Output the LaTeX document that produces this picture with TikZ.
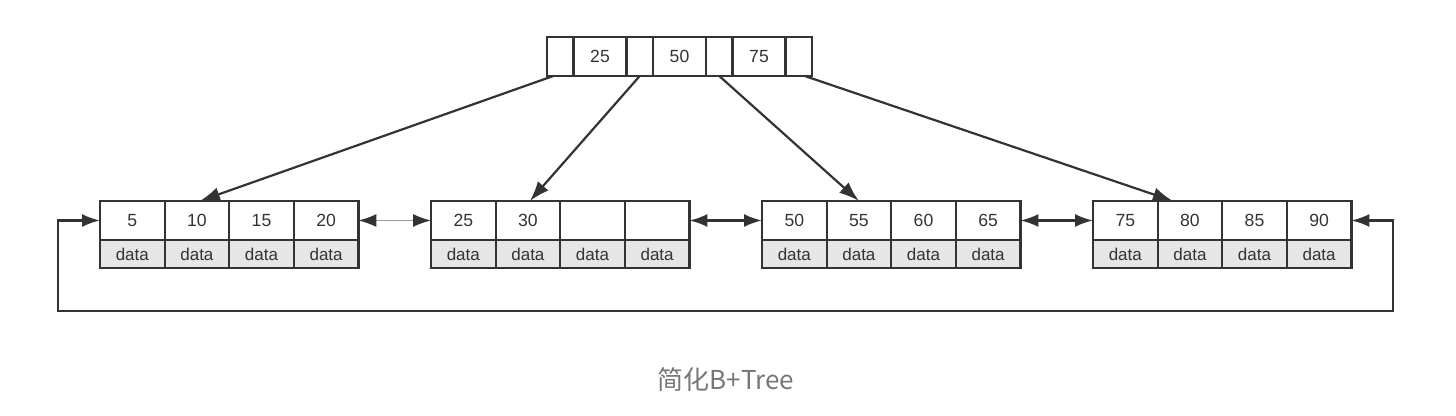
\documentclass[tikz,border=0pt]{standalone}
\usepackage{fontspec}
\setmainfont{Liberation Sans}
\newfontfamily\cjk{Noto Sans CJK SC}
\usetikzlibrary{arrows.meta,positioning}
\definecolor{ln}{HTML}{333333}
\definecolor{datafill}{HTML}{E6E6E6}
\definecolor{thinln}{HTML}{9A9A9A}
\definecolor{capgray}{HTML}{777777}
\begin{document}
\begin{tikzpicture}[x=0.5pt,y=-0.5pt,
  cellbase/.style={draw=ln, line width=1.1pt, outer sep=0pt, inner sep=0pt, text=ln},
  keycell/.style={cellbase, minimum width=32.3pt, minimum height=19.5pt, font=\fontsize{8.8}{10}\selectfont},
  datcell/.style={cellbase, fill=datafill, minimum width=32.3pt, minimum height=14pt, font=\fontsize{8.5}{10}\selectfont},
  tsmall/.style={cellbase, minimum width=13.25pt, minimum height=19.5pt},
  tbig/.style={cellbase, minimum width=26.5pt, minimum height=19.5pt, font=\fontsize{8.8}{10}\selectfont},
  ptr/.style={draw=ln, line width=1.1pt, -{Latex[length=10pt,width=7pt]}},
  link/.style={draw=ln, line width=1.1pt, {Latex[length=9pt,width=6.5pt]}-{Latex[length=9pt,width=6.5pt]}},
  thinlink/.style={draw=thinln, line width=0.7pt, {Latex[length=9pt,width=6.5pt,color=ln]}-{Latex[length=9pt,width=6.5pt,color=ln]}},
]
\useasboundingbox (0,0) rectangle (1456,416);

% top node
\node[tsmall] (t0) at (560.25,56.5) {};
\node[tbig, right=0pt of t0] (t1) {25};
\node[tsmall, right=0pt of t1] (t2) {};
\node[tbig, right=0pt of t2] (t3) {50};
\node[tsmall, right=0pt of t3] (t4) {};
\node[tbig, right=0pt of t4] (t5) {75};
\node[tsmall, right=0pt of t5] (t6) {};

% leaves
\foreach \i/\lx/\ka/\kb/\kc/\kd in {1/100/5/10/15/20, 2/431/25/30/{}/{}, 3/762/50/55/60/65, 4/1093/75/80/85/90}{
  \node[keycell] (k\i1) at (\lx+32.3,220.5) {\ka};
  \node[keycell, right=0pt of k\i1] (k\i2) {\kb};
  \node[keycell, right=0pt of k\i2] (k\i3) {\kc};
  \node[keycell, right=0pt of k\i3] (k\i4) {\kd};
  \foreach \j in {1,2,3,4}{
    \node[datcell, below=0pt of k\i\j] (d\i\j) {data};
  }
}

% pointers from root
\draw[ptr] ([xshift=-3.5pt]t0.south) -- ([xshift=1.5pt]k12.north);
\draw[ptr] (t2.south) -- ([xshift=1pt]k22.north);
\draw[ptr] (t4.south) -- (k32.north);
\draw[ptr] ([xshift=3pt]t6.south) -- ([xshift=-8.5pt]k42.north);

% sibling links
\draw[thinlink] (k14.east) -- (k21.west);
\draw[link] (k24.east) -- (k31.west);
\draw[link] (k34.east) -- (k41.west);

% loop
\coordinate (lr) at (1393,311);
\coordinate (ll) at (58,311);
\draw[link] (k44.east) -| (lr) -- (ll) |- (k11.west);

% caption
\node[text=capgray, font=\cjk\fontsize{13}{15}\selectfont] (cap) at (726,380) {简化B+Tree};
\end{tikzpicture}
\end{document}
